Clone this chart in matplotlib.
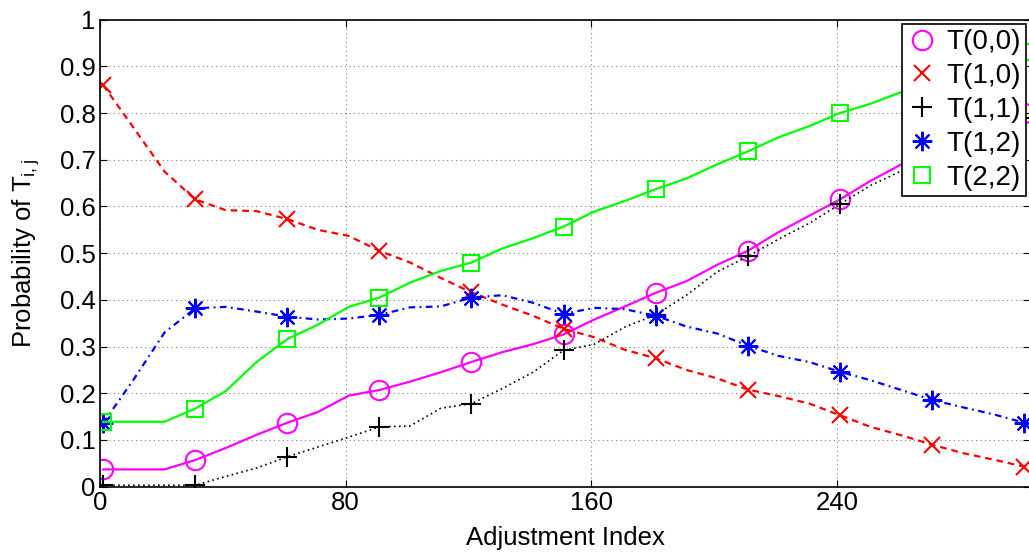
import matplotlib
matplotlib.use('Agg')
import matplotlib.pyplot as plt
from matplotlib.lines import Line2D

plt.rcParams['font.family'] = ['Liberation Sans', 'DejaVu Sans']
plt.rcParams['mathtext.default'] = 'regular'

# adjustment index (sampled every 10 steps)
idx = list(range(1, 302, 10))

t00 = [0.037, 0.037, 0.037, 0.057, 0.083, 0.111, 0.137, 0.160, 0.195, 0.207,
       0.225, 0.245, 0.267, 0.288, 0.305, 0.326, 0.358, 0.386, 0.415, 0.440,
       0.475, 0.505, 0.545, 0.580, 0.615, 0.655, 0.690, 0.710, 0.740, 0.770, 0.800]
t10 = [0.860, 0.768, 0.675, 0.615, 0.592, 0.590, 0.573, 0.550, 0.537, 0.505,
       0.480, 0.447, 0.416, 0.390, 0.366, 0.338, 0.320, 0.293, 0.275, 0.250,
       0.232, 0.208, 0.194, 0.178, 0.153, 0.128, 0.110, 0.090, 0.072, 0.058, 0.043]
t11 = [0.003, 0.003, 0.003, 0.003, 0.022, 0.040, 0.064, 0.085, 0.106, 0.128,
       0.130, 0.168, 0.178, 0.210, 0.245, 0.292, 0.305, 0.342, 0.368, 0.410,
       0.460, 0.493, 0.530, 0.564, 0.605, 0.645, 0.676, 0.700, 0.730, 0.760, 0.790]
t12 = [0.136, 0.230, 0.330, 0.382, 0.385, 0.375, 0.364, 0.358, 0.360, 0.368,
       0.384, 0.386, 0.405, 0.410, 0.394, 0.370, 0.383, 0.380, 0.366, 0.343,
       0.328, 0.302, 0.280, 0.267, 0.246, 0.228, 0.207, 0.186, 0.170, 0.155, 0.137]
t22 = [0.139, 0.139, 0.139, 0.167, 0.205, 0.267, 0.316, 0.347, 0.385, 0.405,
       0.437, 0.462, 0.480, 0.510, 0.532, 0.557, 0.589, 0.612, 0.637, 0.660,
       0.690, 0.718, 0.748, 0.772, 0.800, 0.820, 0.845, 0.870, 0.890, 0.910, 0.930]

labels = ['T(0,0)', 'T(1,0)', 'T(1,1)', 'T(1,2)', 'T(2,2)']
series = [t00, t10, t11, t12, t22]
colors = ['#ff00ff', '#ff0000', '#000000', '#0000ff', '#00ff00']
styles = ['-', (0, (3, 2.2)), (0, (1, 2)), (0, (3, 2, 0.8, 2)), '-']
markers = ['o', 'x', '+', (8, 2, 0), 's']
msizes = [14, 11, 14, 14, 12]
widths = [1.6, 1.6, 1.2, 1.6, 1.6]

fig = plt.figure(figsize=(10.29, 5.54), dpi=100)
ax = fig.add_axes([0.0972, 0.1215, 0.904, 0.843])

for y, c, ls, m, ms, lw in zip(series, colors, styles, markers, msizes, widths):
    ax.plot(idx, y, color=c, linestyle=ls, linewidth=lw)
    ax.plot(idx, y, color=c, linestyle='none', marker=m, markersize=ms,
            markevery=3, markerfacecolor='none', markeredgewidth=1.5)

ax.set_xlim(0, 303)
ax.set_ylim(0, 1)
ax.set_xticks([0, 80, 160, 240])
ax.set_yticks([i / 10 for i in range(11)])
ax.set_yticklabels(['0', '0.1', '0.2', '0.3', '0.4', '0.5', '0.6', '0.7', '0.8', '0.9', '1'])
ax.tick_params(direction='in', top=True, right=True, length=5, labelsize=18.5, pad=3)
ax.grid(True, color='0.5', linestyle=(0, (1, 3)), linewidth=0.8)
for s in ax.spines.values():
    s.set_linewidth(1.2)

ax.set_xlabel('Adjustment Index', fontsize=18.5, labelpad=8)
ax.set_ylabel(r'Probability of T$_{i,j}$', fontsize=18.5, labelpad=13)

handles = [Line2D([], [], color=c, linestyle='none', marker=m, markersize=ms,
                  markerfacecolor='none', markeredgewidth=1.5)
           for c, m, ms in zip(colors, markers, msizes)]
leg = ax.legend(handles, labels, loc='upper right', fontsize=20, frameon=True,
                fancybox=False, edgecolor='black', framealpha=1, borderaxespad=0.15,
                labelspacing=0.28, handlelength=1.1, handletextpad=0.3, borderpad=0.2)
leg.get_frame().set_linewidth(1.2)

fig.savefig('out.png', dpi=100)
